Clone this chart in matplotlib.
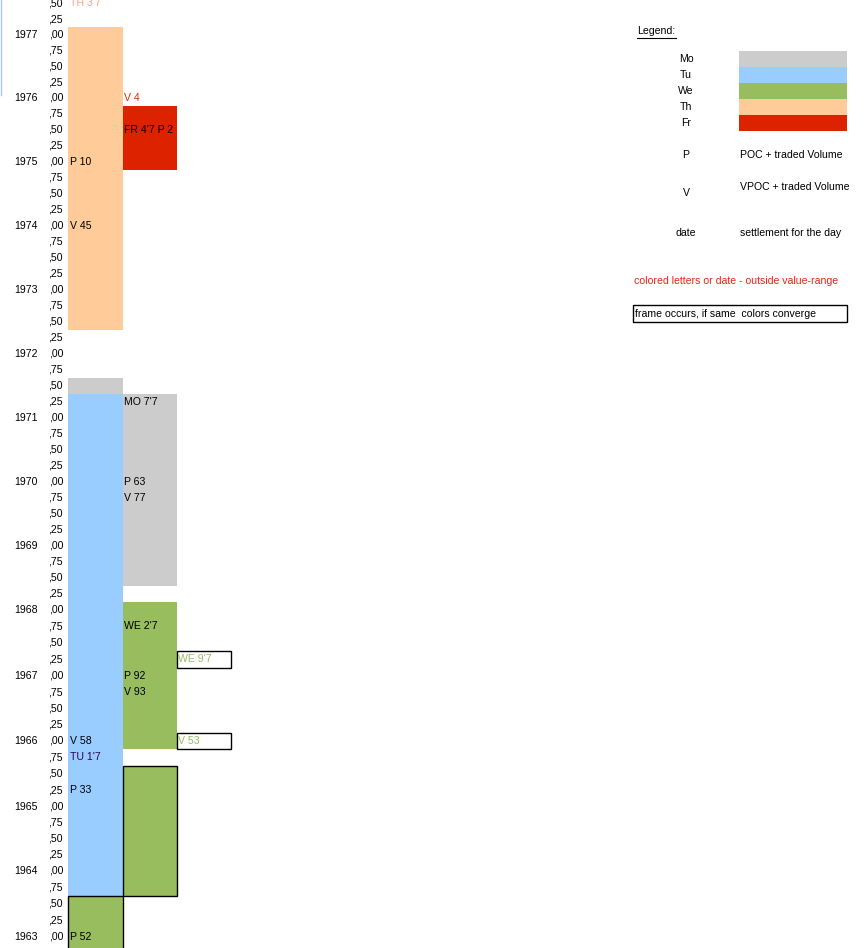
import numpy as np
import matplotlib
matplotlib.use("Agg")
import matplotlib.pyplot as plt
from matplotlib.patches import Rectangle

plt.rcParams['font.family'] = ['Liberation Sans', 'DejaVu Sans']

# price rows of the sheet, top to bottom (step 0,25)
prices = np.arange(1977.50, 1962.99, -0.25)

day_names = ['Mo', 'Tu', 'We', 'Th', 'Fr']
day_colors = ['#CCCCCC', '#99CCFF', '#97BD5E', '#FFCC99', '#DD2200']

# blocks of time-price letters: column, first row, last row, day, framed
block_col = [0, 1, 0, 0, 1, 1, 1, 0]
block_top = [1977.00, 1975.75, 1971.50, 1971.25, 1971.25, 1968.00, 1965.50, 1963.50]
block_bottom = [1972.50, 1975.00, 1971.50, 1963.75, 1968.50, 1966.00, 1963.75, 1962.50]
block_day = ['Th', 'Fr', 'Mo', 'Tu', 'Mo', 'We', 'We', 'We']
block_framed = [False, False, False, False, False, False, True, True]

# cell notes: column, row, text, colour, framed
note_col = [0, 1, 1, 0, 0, 1, 1, 1, 1, 2, 1, 1, 0, 2, 0, 0, 0]
note_price = [1977.50, 1976.00, 1975.50, 1975.00, 1974.00, 1971.25, 1970.00, 1969.75,
              1967.75, 1967.25, 1967.00, 1966.75, 1966.00, 1966.00, 1965.75, 1965.25, 1963.00]
note_text = ["TH 3'7", "V 4", "FR 4'7 P 2", "P 10", "V 45", "MO 7'7", "P 63", "V 77",
             "WE 2'7", "WE 9'7", "P 92", "V 93", "V 58", "V 53", "TU 1'7", "P 33", "P 52"]
note_color = ['#FF9E85', '#CC3300', 'k', 'k', 'k', 'k', 'k', 'k',
              'k', '#97BD5E', 'k', 'k', 'k', '#97BD5E', '#330066', 'k', 'k']
note_framed = [False, False, False, False, False, False, False, False,
               False, True, False, False, False, True, False, False, False]

# sheet rows are not all the same height: pixel row of some prices
row_anchor_price = np.array([1962.00, 1963.00, 1964.00, 1965.00, 1966.00, 1967.00, 1968.00,
                             1969.00, 1970.00, 1971.00, 1972.00, 1973.00, 1974.00, 1975.00,
                             1976.00, 1977.00, 1978.00])
row_anchor_px = np.array([1002.0, 937.0, 871.0, 807.0, 741.0, 676.0, 610.0,
                          546.0, 482.0, 418.0, 354.0, 290.0, 226.0, 162.0,
                          98.0, 35.0, -29.0])


def price_to_row(p):
    return -np.interp(p, row_anchor_price, row_anchor_px)


def row_to_price(v):
    return np.interp(-np.asarray(v), row_anchor_px[::-1], row_anchor_price[::-1])


W, H = 867, 948
fig = plt.figure(figsize=(W / 100, H / 100), dpi=100)
ax = fig.add_axes([0, 0, 1, 1])
ax.set_xlim(0, W)
ax.set_yscale('function', functions=(price_to_row, row_to_price))
ax.set_ylim(row_to_price(-H), row_to_price(0))
ax.axis('off')

col_left = [68, 123, 177]
col_width = [55, 54, 54]
half = 0.125
fs = 7.6

# row labels
for p in prices:
    frac = int(round((p % 1) * 100))
    ax.text(63, p, ',%02d' % frac, ha='right', va='center', fontsize=fs)
    if frac == 0:
        ax.text(38, p, '%d' % int(round(p)), ha='right', va='center', fontsize=fs)

# blocks
for c, top, bot, day, fr in zip(block_col, block_top, block_bottom, block_day, block_framed):
    color = day_colors[day_names.index(day)]
    rect = Rectangle((col_left[c], bot - half), col_width[c], top - bot + 2 * half,
                     facecolor=color, edgecolor='k' if fr else 'none', lw=1.0, zorder=1)
    ax.add_patch(rect)

# notes
for c, p, t, clr, fr in zip(note_col, note_price, note_text, note_color, note_framed):
    if fr:
        ax.add_patch(Rectangle((col_left[c], p - half), col_width[c], 2 * half,
                               facecolor='white', edgecolor='k', lw=1.0, zorder=2))
    ax.text(col_left[c] + 1.5, p, t, ha='left', va='center', fontsize=fs, color=clr, zorder=3)

# legend overlay in pixel coordinates
lg = fig.add_axes([0, 0, 1, 1])
lg.set_xlim(0, W)
lg.set_ylim(H, 0)
lg.axis('off')
lg.patch.set_alpha(0)

lg.text(637, 31, 'Legend:', ha='left', va='center', fontsize=fs)
lg.plot([637, 676], [37.5, 37.5], color='k', lw=0.8)
for i, (name, color) in enumerate(zip(day_names, day_colors)):
    yc = 59 + 16 * i
    lg.text(686, yc, name, ha='center', va='center', fontsize=fs)
    lg.add_patch(Rectangle((739, yc - 8), 108, 16, facecolor=color, edgecolor='none'))

lg.text(686, 155, 'P', ha='center', va='center', fontsize=fs)
lg.text(740, 155, 'POC + traded Volume', ha='left', va='center', fontsize=fs)
lg.text(686, 193, 'V', ha='center', va='center', fontsize=fs)
lg.text(740, 187, 'VPOC + traded Volume', ha='left', va='center', fontsize=fs)
lg.text(686, 233, 'date', ha='center', va='center', fontsize=fs)
lg.text(740, 233, 'settlement for the day', ha='left', va='center', fontsize=fs)
lg.text(634, 281, 'colored letters or date - outside value-range', ha='left', va='center',
        fontsize=fs, color='#EE2211')
lg.add_patch(Rectangle((633, 305), 214, 17, facecolor='none', edgecolor='k', lw=1.0))
lg.text(635, 314, 'frame occurs, if same  colors converge', ha='left', va='center', fontsize=fs)

# faint window edge on the left
lg.plot([0.5, 0.5], [0, 95], color='#A9C8E8', lw=1.0)

fig.savefig('out.png', dpi=100)
